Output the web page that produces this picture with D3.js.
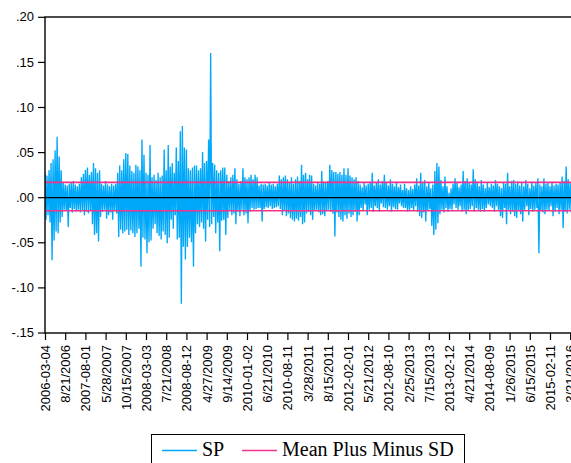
<!DOCTYPE html>
<html>
<head>
<meta charset="utf-8">
<script src="https://cdn.jsdelivr.net/npm/d3@7"></script>
<style>
  body { margin: 0; background: #fff; }
  svg { display: block; }
</style>
</head>
<body>
<svg id="chart" width="571" height="463"></svg>
<script>
// Daily SP returns (alternating highs and lows of the swing, one step per observation)
const sp = [
  .027,-.025,.024,-.02,.03,-.028,.038,-.07,.042,-.048,
  .052,-.038,.067,-.04,.045,-.028,.03,-.022,.016,-.014,
  .014,-.015,.013,-.033,.015,-.012,.016,-.017,.018,-.013,
  .014,-.016,.012,-.014,.015,-.017,.022,-.015,.026,-.02,
  .03,-.016,.033,-.018,.025,-.015,.028,-.03,.038,-.042,
  .032,-.04,.027,-.049,.03,-.022,.015,-.016,.013,-.014,
  .018,-.024,.014,-.02,.012,-.017,.015,-.025,.013,-.015,
  .015,-.018,.027,-.044,.035,-.036,.03,-.04,.042,-.038,
  .049,-.036,.048,-.042,.035,-.037,.029,-.04,.027,-.044,
  .036,-.04,.034,-.035,.03,-.077,.064,-.045,.047,-.047,
  .027,-.062,.025,-.05,.058,-.048,.022,-.035,.025,-.03,
  .019,-.04,.027,-.043,.022,-.047,.024,-.038,.053,-.042,
  .03,-.051,.058,-.045,.034,-.025,.038,-.035,.027,-.02,
  .055,-.047,.04,-.045,.073,-.118,.079,-.055,.055,-.069,
  .053,-.055,.032,-.045,.03,-.05,.033,-.077,.035,-.04,
  .035,-.03,.03,-.033,.032,-.028,.05,-.035,.038,-.049,
  .04,-.025,.064,-.033,.16,-.03,.038,-.022,.036,-.04,
  .03,-.028,.027,-.06,.03,-.026,.033,-.025,.033,-.042,
  .025,-.023,.018,-.015,.022,-.02,.025,-.018,.032,-.03,
  .02,-.016,.015,-.021,.018,-.014,.032,-.02,.022,-.018,
  .02,-.029,.022,-.016,.025,-.012,.02,-.014,.025,-.013,
  .022,-.012,.013,-.012,.015,-.027,.014,-.013,
  .015,-.011,.013,-.012,.016,-.01,.014,-.013,.015,-.012,
  .012,-.011,.015,-.01,.024,-.013,.02,-.02,.022,-.015,
  .024,-.021,.02,-.018,.016,-.023,.022,-.025,.015,-.027,
  .02,-.024,.023,-.026,.018,-.022,.036,-.03,.025,-.028,
  .027,-.018,.02,-.016,.025,-.02,.024,-.025,.015,-.015,
  .013,-.014,.016,-.017,.015,-.02,.029,-.019,.017,-.021,
  .016,-.015,.018,-.014,.036,-.016,.03,-.018,.028,-.0435,
  .028,-.017,.026,-.022,.028,-.025,.025,-.027,.032,-.02,
  .025,-.024,.032,-.018,.024,-.022,.022,-.02,.02,-.016,
  .022,-.027,.018,-.02,.014,-.012,.011,-.015,.016,-.008,
  .013,-.02,.015,-.014,.017,-.012,.027,-.016,.013,-.01,
  .016,-.012,.02,-.016,.014,-.007,.018,-.011,
  .025,-.012,.016,-.014,.013,-.01,.02,-.016,.015,-.011,
  .012,-.013,.017,-.014,.011,-.007,.014,-.01,.008,-.012,
  .015,-.012,.01,-.016,.008,-.014,.012,-.012,.009,-.015,
  .014,-.01,.021,-.016,.013,-.021,.027,-.023,.016,-.017,
  .019,-.027,.012,-.015,.016,-.013,.01,-.032,.014,-.042,
  .029,-.036,.038,-.029,.034,-.019,.019,-.014,.012,-.017,
  .023,-.012,.012,-.016,.005,-.013,.01,-.014,.015,-.008,
  .021,-.012,.017,-.014,.011,-.01,.014,-.016,.029,-.014,
  .018,-.019,.021,-.015,.016,-.013,.014,-.01,.031,-.016,
  .02,-.012,.017,-.014,.012,-.016,.019,-.013,.014,-.016,
  .01,-.012,.016,-.008,.011,-.01,.015,-.012,
  .013,-.016,.019,-.01,.015,-.014,.012,-.021,.01,-.023,
  .016,-.012,.015,-.03,.027,-.014,.012,-.019,.018,-.016,
  .019,-.021,.015,-.023,.017,-.015,.013,-.019,.016,-.027,
  .012,-.014,.019,-.01,.015,-.02,.01,-.013,.017,-.016,
  .013,-.014,.016,-.012,.021,-.062,.014,-.015,.012,-.017,
  .021,-.019,.015,-.014,.016,-.015,.012,-.01,.017,-.021,
  .013,-.016,.015,-.012,.014,-.019,.016,-.014,.023,-.034,
  .018,-.016,.034,-.018,.02,-.014,.016,-.017,.022,-.015,
  .017,-.014,.02,-.016
];

// Mean of the series and one standard deviation
const meanSP = 0.0007;
const sdSP = 0.0157;

const yTicks = [-0.15, -0.10, -0.05, 0.00, 0.05, 0.10, 0.15, 0.20];

const xTickLabels = [
  "2006-03-04", "8/21/2006", "2007-08-01", "5/28/2007", "10/15/2007",
  "2008-03-03", "7/21/2008", "2008-08-12", "4/27/2009", "9/14/2009",
  "2010-01-02", "6/21/2010", "2010-08-11", "3/28/2011", "8/15/2011",
  "2012-02-01", "5/21/2012", "2012-08-10", "2/25/2013", "7/15/2013",
  "2013-02-12", "4/21/2014", "2014-08-09", "1/26/2015", "6/15/2015",
  "2015-02-11", "3/21/2016"
];
const xTickStep = 20; // observations between date labels

const legendItems = [
  { name: "SP", color: "#00a8fa" },
  { name: "Mean Plus Minus SD", color: "#f2338c" }
];

const svg = d3.select("#chart");
const plot = { left: 45, top: 17, right: 600, bottom: 333 };

const x = d3.scaleLinear()
  .domain([0, (xTickLabels.length - 1) * xTickStep])
  .range([plot.left, plot.left + (xTickLabels.length - 1) * 20.2]);
const y = d3.scaleLinear()
  .domain([-0.15, 0.20])
  .range([332.5, 16.8]);

svg.append("defs").append("clipPath").attr("id", "plotClip")
  .append("rect")
  .attr("x", plot.left).attr("y", plot.top)
  .attr("width", plot.right - plot.left).attr("height", plot.bottom - plot.top);

const g = svg.append("g").attr("clip-path", "url(#plotClip)");

// return series
const line = d3.line().x((d, i) => x(i)).y(d => y(d));
g.append("path")
  .datum(sp)
  .attr("fill", "none")
  .attr("stroke", legendItems[0].color)
  .attr("stroke-width", 1.35)
  .attr("d", line);

// zero line
g.append("line")
  .attr("x1", plot.left).attr("x2", plot.right)
  .attr("y1", y(0) + 0.5).attr("y2", y(0) + 0.5)
  .attr("stroke", "#000").attr("stroke-width", 1.2);

// mean +/- one standard deviation
[meanSP + sdSP, meanSP - sdSP].forEach(v => {
  g.append("line")
    .attr("x1", plot.left).attr("x2", plot.right)
    .attr("y1", y(v)).attr("y2", y(v))
    .attr("stroke", legendItems[1].color).attr("stroke-width", 1.6);
});

// frame
svg.append("rect")
  .attr("x", plot.left).attr("y", plot.top)
  .attr("width", plot.right - plot.left).attr("height", plot.bottom - plot.top)
  .attr("fill", "none").attr("stroke", "#000").attr("stroke-width", 1.4);

// y axis
const fmtY = v => d3.format(".2f")(v).replace("\u2212", "-").replace(/^(-?)0\./, "$1.");
const yAxis = svg.append("g")
  .attr("transform", `translate(${plot.left},0)`)
  .call(d3.axisLeft(y).tickValues(yTicks).tickFormat(fmtY).tickSize(7).tickPadding(4));
yAxis.select(".domain").remove();
yAxis.selectAll("line").attr("stroke", "#000").attr("stroke-width", 1.2);
yAxis.selectAll("text")
  .attr("font-family", "Liberation Sans, Arial, sans-serif")
  .attr("font-size", 13).attr("fill", "#000");

// x axis
const xAxis = svg.append("g")
  .attr("transform", `translate(0,${plot.bottom})`)
  .call(d3.axisBottom(x)
    .tickValues(xTickLabels.map((d, i) => i * xTickStep))
    .tickFormat((d, i) => xTickLabels[i])
    .tickSize(7));
xAxis.select(".domain").remove();
xAxis.selectAll("line").attr("stroke", "#000").attr("stroke-width", 1.2);
xAxis.selectAll("text")
  .attr("font-family", "Liberation Sans, Arial, sans-serif")
  .attr("font-size", 13).attr("fill", "#000")
  .attr("text-anchor", "end")
  .attr("dy", "0.35em")
  .attr("transform", "translate(0,4) rotate(-90)")
  .attr("x", -8).attr("y", 0);

// legend
const lg = svg.append("g");
lg.append("rect")
  .attr("x", 151.5).attr("y", 434.5).attr("width", 313).attr("height", 40)
  .attr("fill", "#fff").attr("stroke", "#000").attr("stroke-width", 1);
const legendPos = [{ x1: 162, x2: 197, tx: 202 }, { x1: 242, x2: 277, tx: 282 }];
legendItems.forEach((item, i) => {
  const p = legendPos[i];
  lg.append("line")
    .attr("x1", p.x1).attr("x2", p.x2).attr("y1", 450.5).attr("y2", 450.5)
    .attr("stroke", item.color).attr("stroke-width", 1.5);
  lg.append("text")
    .attr("x", p.tx).attr("y", 456)
    .attr("font-family", "Liberation Serif, Times New Roman, serif")
    .attr("font-size", 20).attr("fill", "#000")
    .text(item.name);
});
</script>
</body>
</html>
